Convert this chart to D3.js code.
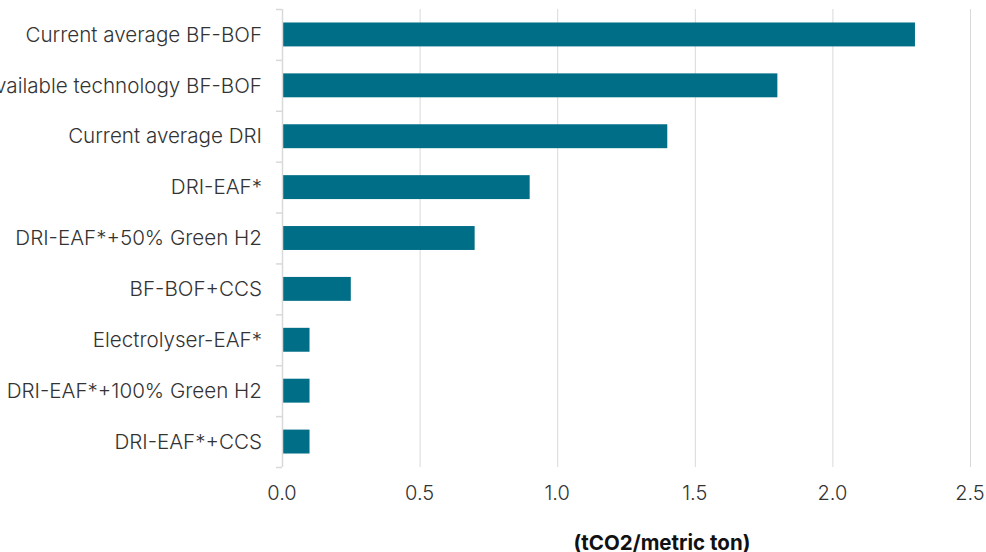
<!DOCTYPE html>
<html>
<head>
<meta charset="utf-8">
<script src="https://cdn.jsdelivr.net/npm/d3@7"></script>
<style>
  html, body { margin: 0; padding: 0; background: #fff; }
  svg { display: block; font-family: Inter, "Noto Sans", sans-serif; }
</style>
</head>
<body>
<svg id="chart" width="986" height="552"></svg>
<script>
// Emissions intensity by steelmaking route
const categories = [
  "Current average BF-BOF",
  "Best available technology BF-BOF",
  "Current average DRI",
  "DRI-EAF*",
  "DRI-EAF*+50% Green H2",
  "BF-BOF+CCS",
  "Electrolyser-EAF*",
  "DRI-EAF*+100% Green H2",
  "DRI-EAF*+CCS"
];
const values = [2.3, 1.8, 1.4, 0.9, 0.7, 0.25, 0.1, 0.1, 0.1];
const xTicks = [0, 0.5, 1.0, 1.5, 2.0, 2.5];
const axisTitle = "(tCO2/metric ton)";

const svg = d3.select("#chart");
const plot = { left: 282, right: 970, top: 9, bottom: 467 };

const x = d3.scaleLinear().domain([0, 2.5]).range([plot.left, plot.right]);
const y = d3.scaleBand().domain(categories).range([plot.top, plot.bottom]).paddingInner(0.53).paddingOuter(0.265);

// vertical gridlines
svg.append("g").selectAll("line").data(xTicks.filter(d => d > 0)).join("line")
  .attr("x1", d => x(d) + 0.5).attr("x2", d => x(d) + 0.5)
  .attr("y1", plot.top).attr("y2", plot.bottom)
  .attr("stroke", "#d9d9d9").attr("stroke-width", 1);

// bars
svg.append("g").selectAll("rect").data(categories).join("rect")
  .attr("x", x(0) + 1)
  .attr("y", d => y(d))
  .attr("width", (d, i) => x(values[i]) - x(0) - 1)
  .attr("height", y.bandwidth())
  .attr("fill", "#006e87");

// category axis with band-boundary ticks
const yAxis = svg.append("g");
yAxis.append("line")
  .attr("x1", x(0) + 0.5).attr("x2", x(0) + 0.5)
  .attr("y1", plot.top).attr("y2", plot.bottom)
  .attr("stroke", "#d9d9d9").attr("stroke-width", 1.5);
const bounds = d3.range(categories.length + 1)
  .map(i => plot.top + i * (plot.bottom - plot.top) / categories.length);
yAxis.selectAll("line.tick").data(bounds).join("line").attr("class", "tick")
  .attr("x1", x(0) - 6).attr("x2", x(0))
  .attr("y1", d => d + 0.5).attr("y2", d => d + 0.5)
  .attr("stroke", "#d9d9d9").attr("stroke-width", 1.5);
yAxis.selectAll("text").data(categories).join("text")
  .attr("x", 262)
  .attr("y", d => y(d) + y.bandwidth() / 2)
  .attr("dy", "0.35em")
  .attr("text-anchor", "end")
  .attr("font-size", 20.6)
  .attr("font-weight", 300)
  .attr("fill", "#333")
  .text(d => d);

// value axis labels
svg.append("g").selectAll("text").data(xTicks).join("text")
  .attr("x", d => x(d))
  .attr("y", 493)
  .attr("dy", "0.35em")
  .attr("text-anchor", "middle")
  .attr("font-size", 20)
  .attr("font-weight", 300)
  .attr("fill", "#333")
  .text(d => d3.format(".1f")(d));

// axis title
svg.append("text")
  .attr("x", 662).attr("y", 543)
  .attr("dy", "0.35em")
  .attr("text-anchor", "middle")
  .attr("font-size", 20.5)
  .attr("font-weight", 700)
  .attr("fill", "#111")
  .text(axisTitle);
</script>
</body>
</html>
